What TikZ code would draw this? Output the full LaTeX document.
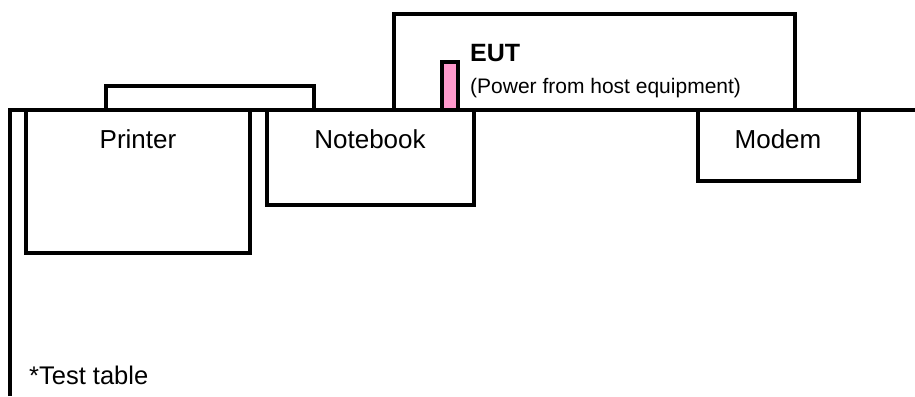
\documentclass[tikz,border=0pt]{standalone}
\usepackage{fontspec}
\setmainfont{Liberation Sans}
\definecolor{eutpink}{HTML}{FF99CC}
\begin{document}
\begin{tikzpicture}[x=1pt,y=-1pt,
  box/.style={draw=black,line width=3.4pt,fill=white},
  lbl/.style={inner sep=0pt,font=\fontsize{26}{30}\selectfont},
  sublbl/.style={inner sep=0pt,anchor=west,font=\fontsize{21}{25}\selectfont}]
\useasboundingbox (0,0) rectangle (915,396);
% EUT host box and printer top box (behind the table line)
\draw[box] (394,110) -- (394,14) -- (795,14) -- (795,110);
\draw[box] (106,110) -- (106,86) -- (314,86) -- (314,110);
% pink power connector
\draw[line width=3.4pt,fill=eutpink] (442,110) -- (442,62) -- (458,62) -- (458,110);
% test table
\draw[line width=3.4pt] (10,396) -- (10,110) -- (915,110);
% devices under the table line
\draw[box] (26,110) rectangle (250,253);
\draw[box] (267,110) rectangle (474,205);
\draw[box] (698,110) rectangle (859,181);
\draw[line width=3.4pt] (10,110) -- (915,110);
% labels
\node[lbl] (printer) at (138,139) {Printer};
\node[lbl] (notebook) at (370,139) {Notebook};
\node[lbl] (modem) at (778,139) {Modem};
\node[sublbl,font=\fontsize{25}{30}\selectfont\bfseries] (eut) at (470,53) {EUT};
\node[sublbl] (power) at (470,88) {(Power from host equipment)};
\node[sublbl,font=\fontsize{25.5}{30}\selectfont] (table) at (29,375) {*Test table};
\end{tikzpicture}
\end{document}
